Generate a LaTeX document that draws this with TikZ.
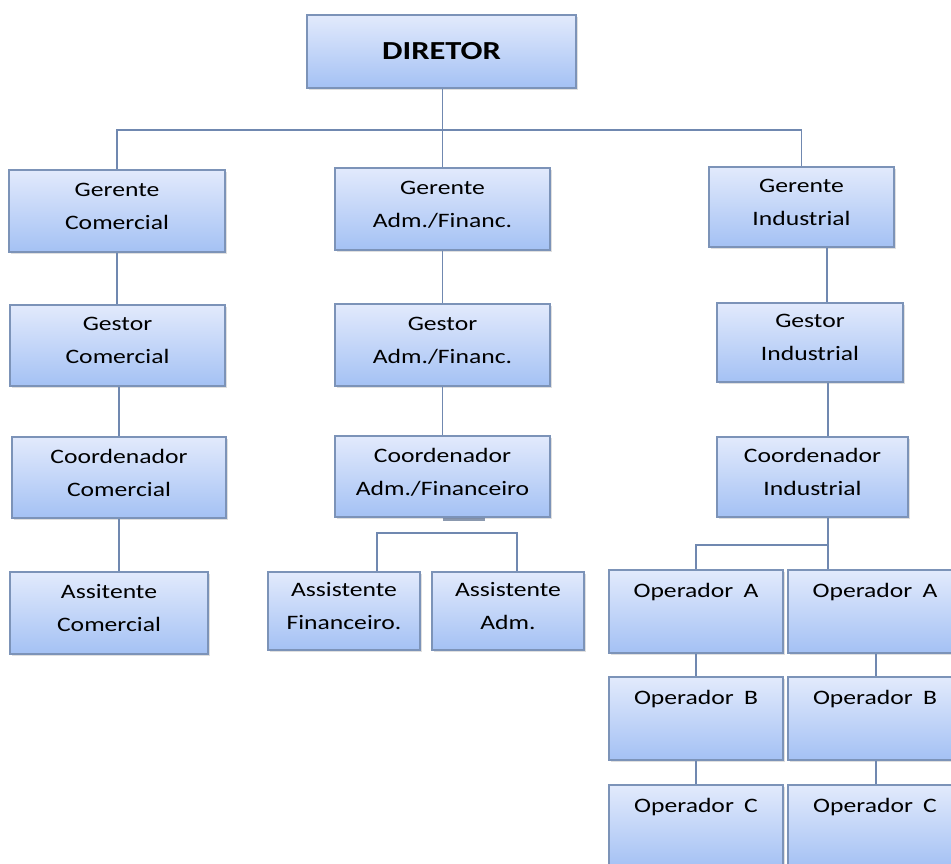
\documentclass[tikz,border=0pt]{standalone}
\usepackage{fontspec}
\setmainfont{Carlito}[FakeStretch=1.25]
\usetikzlibrary{shadows}
\definecolor{boxtop}{HTML}{E2EAFC}
\definecolor{boxbot}{HTML}{A4C1F4}
\definecolor{boxline}{HTML}{7C93B8}
\definecolor{conn}{HTML}{7088B0}
\tikzset{
  box/.style={draw=boxline, line width=1.3pt, top color=boxtop, bottom color=boxbot,
    align=center, inner sep=0pt, font={\fontsize{20.5}{33}\selectfont},
    text=black, drop shadow={shadow xshift=1.5pt, shadow yshift=-1.5pt, opacity=0.25}},
  conline/.style={draw=conn, line width=1.6pt},
}
\newcommand{\lastdp}{\rule[-10pt]{0pt}{0pt}}
\begin{document}
\begin{tikzpicture}[x=1pt,y=-1pt]
\useasboundingbox (0,0) rectangle (951,863);
\clip (0,0) rectangle (951,863);
% level 0
\node[box, minimum width=269pt, minimum height=73pt, font={\fontsize{26}{30}\selectfont\bfseries}] (dir) at (441.5,51.5) {DIRETOR};
% gerentes
\node[box, minimum width=216pt, minimum height=82pt] (gc) at (117,211) {Gerente\\Comercial\lastdp};
\node[box, minimum width=215pt, minimum height=82pt] (ga) at (442.5,209) {Gerente\\Adm./Financ.\lastdp};
\node[box, minimum width=185pt, minimum height=80pt] (gi) at (801.5,207) {Gerente\\Industrial\lastdp};
% gestores
\node[box, minimum width=215pt, minimum height=81pt] (sc) at (117.5,345.5) {Gestor\\Comercial\lastdp};
\node[box, minimum width=215pt, minimum height=82pt] (sa) at (442.5,345) {Gestor\\Adm./Financ.\lastdp};
\node[box, minimum width=186pt, minimum height=79pt] (si) at (810,342.5) {Gestor\\Industrial\lastdp};
% coordenadores
\node[box, minimum width=214pt, minimum height=81pt] (cc) at (119,477.5) {Coordenador\\Comercial\lastdp};
\node[box, minimum width=215pt, minimum height=81pt] (ca) at (442.5,476.5) {Coordenador\\Adm./Financeiro\lastdp};
\node[box, minimum width=191pt, minimum height=80pt] (ci) at (812.5,477) {Coordenador\\Industrial\lastdp};
% assistentes
\node[box, minimum width=198pt, minimum height=82pt] (ac) at (109,613) {Assitente\\Comercial\lastdp};
\node[box, minimum width=152pt, minimum height=78pt] (af) at (344,611) {Assistente\\Financeiro.\lastdp};
\node[box, minimum width=152pt, minimum height=78pt] (aa) at (508,611) {Assistente\\Adm.\lastdp};
% operadores
\node[box, minimum width=174pt, minimum height=83pt] (oa1) at (696,611.5) {Operador\enspace A\\\lastdp};
\node[box, minimum width=174pt, minimum height=83pt] (oa2) at (875,611.5) {Operador\enspace A\\\lastdp};
\node[box, minimum width=174pt, minimum height=83pt] (ob1) at (696,718.5) {Operador\enspace B\\\lastdp};
\node[box, minimum width=174pt, minimum height=83pt] (ob2) at (875,718.5) {Operador\enspace B\\\lastdp};
\node[box, minimum width=174pt, minimum height=83pt] (oc1) at (696,826.5) {Operador\enspace C\\\lastdp};
\node[box, minimum width=174pt, minimum height=83pt] (oc2) at (875,826.5) {Operador\enspace C\\\lastdp};
% connectors
\coordinate (bus) at (443,130);
\coordinate (abus) at (447,533);
\coordinate (obus) at (828,545);
\draw[conline] (ga.north) -- (ga.north |- dir.south);
\draw[conline] (gc.north) |- (bus) -| (gi.north);
\draw[conline] (gc.south) -- (gc.south |- sc.north);
\draw[conline] (cc.north) -- (cc.north |- sc.south);
\draw[conline] (cc.south) -- (cc.south |- ac.north);
\draw[conline] (ga.south) -- (sa.north);
\draw[conline] (sa.south) -- (sa.south |- ca.north);
\draw[conline] ([xshift=33pt]af.north) |- (abus) -| ([xshift=9pt]aa.north);
\draw[draw=conn!80!black, line width=3pt, opacity=0.7] ([xshift=0pt,yshift=-1.5pt]ca.south) -- ([xshift=42pt,yshift=-1.5pt]ca.south);
\draw[conline] ([xshift=25.5pt]gi.south) -- ([xshift=25.5pt]gi.south |- si.north);
\draw[conline] ([xshift=15.5pt]ci.north) -- ([xshift=15.5pt]ci.north |- si.south);
\draw[conline] ([xshift=15.5pt]ci.south) -- ([xshift=15.5pt]ci.south |- oa2.north);
\draw[conline] (oa1.north) |- (obus);
\draw[conline] (oa1.south) -- (ob1.north);
\draw[conline] (ob1.south) -- (oc1.north);
\draw[conline] ([xshift=1pt]oa2.south) -- ([xshift=1pt]ob2.north);
\draw[conline] ([xshift=1pt]ob2.south) -- ([xshift=1pt]oc2.north);
\end{tikzpicture}
\end{document}
